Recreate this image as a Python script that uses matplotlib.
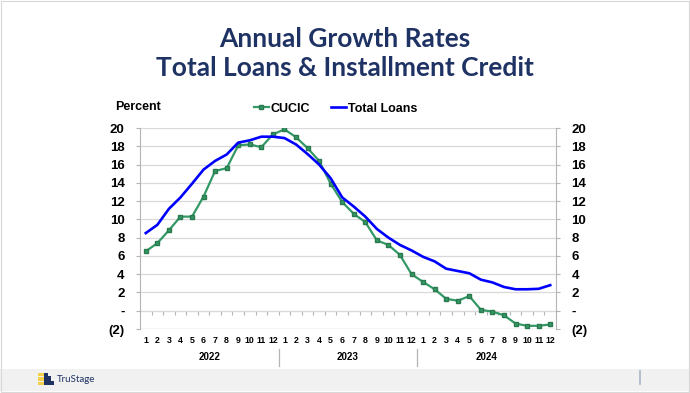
import matplotlib
matplotlib.use("Agg")
import matplotlib.pyplot as plt
from matplotlib.patches import Rectangle
from matplotlib.lines import Line2D
from matplotlib.ticker import FuncFormatter

# monthly annual growth rates, Jan 2022 - Dec 2024
years = ["2022", "2023", "2024"]
month_labels = [str(m) for m in range(1, 13)] * 3
cucic = [6.5, 7.4, 8.8, 10.3, 10.3, 12.5, 15.3, 15.6, 18.1, 18.2, 17.9, 19.3,
         19.85, 19.0, 17.8, 16.4, 13.9, 11.9, 10.6, 9.7, 7.7, 7.2, 6.1, 4.0,
         3.15, 2.35, 1.3, 1.1, 1.6, 0.1, -0.1, -0.5, -1.4, -1.65, -1.65, -1.5]
total_loans = [8.5, 9.4, 11.15, 12.4, 13.9, 15.45, 16.4, 17.1, 18.4, 18.65, 19.05, 19.05,
               18.9, 18.2, 17.15, 16.0, 14.5, 12.4, 11.4, 10.3, 8.95, 8.0, 7.2, 6.6,
               5.9, 5.4, 4.6, 4.35, 4.1, 3.4, 3.1, 2.6, 2.35, 2.35, 2.4, 2.8]
x = list(range(1, len(cucic) + 1))

navy = "#1f3264"
green = "#339966"
blue = "#0000ff"
grey = "#b4b4b4"
chart_font = "Liberation Sans"


def pct(v, pos):
    if v == 0:
        return "-"
    if v < 0:
        return "(%d)" % abs(v)
    return "%d" % v


fig = plt.figure(figsize=(6.9, 3.93), dpi=100)
fig.patch.set_facecolor("white")

# footer band with logo
fig.patches.append(Rectangle((0, 0.005), 1, 0.055, transform=fig.transFigure,
                             facecolor="#f1f1f1", edgecolor="none", zorder=0))
fig.add_artist(Line2D([0.927, 0.927], [0.022, 0.055], transform=fig.transFigure,
                      color="#aab4c8", lw=1.2))
for i, w in enumerate([0.012, 0.016, 0.010]):
    fig.patches.append(Rectangle((0.055, 0.020 + i * 0.011), w, 0.009,
                                 transform=fig.transFigure, facecolor="#f5d04a",
                                 edgecolor="none"))
for x0, h in [(0.064, 0.032), (0.069, 0.022), (0.073, 0.011)]:
    fig.patches.append(Rectangle((x0, 0.020), 0.005, h, transform=fig.transFigure,
                                 facecolor=navy, edgecolor="none"))
fig.text(0.082, 0.034, "TruStage", fontsize=7, color=navy, family="Lato",
         va="center", ha="left")

# title
fig.text(0.5, 0.90, "Annual Growth Rates", ha="center", va="center",
         fontsize=19, fontweight="bold", color=navy, family="Lato")
fig.text(0.5, 0.826, "Total Loans & Installment Credit", ha="center", va="center",
         fontsize=19, fontweight="bold", color=navy, family="Lato")

ax = fig.add_axes([0.2029, 0.1628, 0.6029, 0.5115])
ax.plot(x, cucic, color=green, lw=1.6, marker="s", markersize=3.2,
        markerfacecolor=green, markeredgecolor="#2a7a4e", label="CUCIC", zorder=3)
ax.plot(x, total_loans, color=blue, lw=1.9, label="Total Loans", zorder=4)

ax.set_xlim(0.5, len(x) + 0.5)
ax.set_ylim(-2, 20)
ax.set_yticks(range(-2, 21, 2))
ax.yaxis.set_major_formatter(FuncFormatter(pct))
ax.grid(axis="y", color="#d9d9d9", lw=0.9)
ax.set_axisbelow(True)
for s in ["top", "right", "bottom"]:
    ax.spines[s].set_visible(False)
ax.spines["left"].set_color(grey)
ax.axhline(-2, color="#d0d0d0", lw=0.9, zorder=1)
ax.tick_params(axis="y", length=3, color=grey, pad=8, labelsize=9.5)
for lab in ax.get_yticklabels():
    lab.set_fontweight("bold")
    lab.set_family(chart_font)

# month labels below the plot
ax.set_xticks(x)
ax.set_xticklabels(month_labels, fontsize=6.3, fontweight="bold", family=chart_font)
ax.tick_params(axis="x", length=0, pad=5)

# category axis through zero with boundary ticks
zax = ax.secondary_xaxis(2 / 22)
zax.set_xticks([v + 0.5 for v in x[:-1]])
zax.set_xticklabels([])
zax.tick_params(axis="x", length=3, color=grey)
zax.spines["bottom"].set_color("#d0d0d0")

# year labels and separators
trans = ax.get_xaxis_transform()
for i, yr in enumerate(years):
    ax.text(6.5 + 12 * i, -0.14, yr, transform=trans, ha="center", va="center",
            fontsize=7, fontweight="bold", family=chart_font)
for b in [12.5, 24.5]:
    ax.add_line(Line2D([b, b], [-0.10, -0.185], transform=trans, color=grey,
                       lw=0.9, clip_on=False))

# right axis mirrors the left
ax2 = ax.twinx()
ax2.set_ylim(ax.get_ylim())
ax2.set_yticks(range(-2, 21, 2))
ax2.yaxis.set_major_formatter(FuncFormatter(pct))
for s in ["top", "left", "bottom"]:
    ax2.spines[s].set_visible(False)
ax2.spines["right"].set_color(grey)
ax2.tick_params(axis="y", length=3, color=grey, pad=8, labelsize=9.5)
for lab in ax2.get_yticklabels():
    lab.set_fontweight("bold")
    lab.set_family(chart_font)

fig.text(0.167, 0.727, "Percent", ha="left", va="center", fontsize=9,
         fontweight="bold", family=chart_font)

leg = ax.legend(loc="lower center", bbox_to_anchor=(0.47, 1.01), ncol=2, frameon=False,
                handlelength=1.2, handletextpad=0.15, columnspacing=1.7,
                prop={"family": chart_font, "weight": "bold", "size": 9})

# thin frame round the slide
fig.patches.append(Rectangle((0.001, 0.003), 0.997, 0.995, transform=fig.transFigure,
                             facecolor="none", edgecolor="#d8d8d8", lw=0.8))

fig.savefig("out.png", dpi=100)
